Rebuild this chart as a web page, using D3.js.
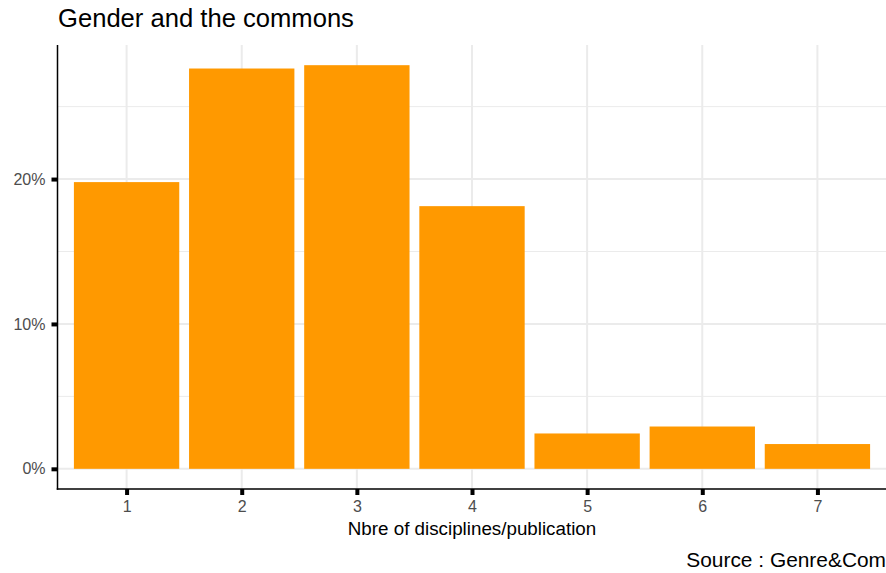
<!DOCTYPE html>
<html>
<head>
<meta charset="utf-8">
<script src="https://cdn.jsdelivr.net/npm/d3@7"></script>
<style>
  html, body { margin: 0; padding: 0; background: #fff; }
  svg { display: block; font-family: "Liberation Sans", Arial, Helvetica, sans-serif; }
</style>
</head>
<body>
<svg id="chart" width="886" height="573"></svg>
<script>
// ---- data ----
const categories = [1, 2, 3, 4, 5, 6, 7];
const shares = [0.1979, 0.2763, 0.2786, 0.1813, 0.0244, 0.0292, 0.0171];
const yTicks = [0, 0.10, 0.20];
const yMinorTicks = [0.05, 0.15, 0.25];
const titleText = "Gender and the commons";
const xTitleText = "Nbre of disciplines/publication";
const captionText = "Source : Genre&Com";

// ---- layout ----
const W = 886, H = 573;
const panel = { left: 57.5, right: 886.5, top: 45, bottom: 489 };
const svg = d3.select("#chart");

const maxV = d3.max(shares);
const ex = 0.05 * maxV;
const x = d3.scaleLinear().domain([0.4, 7.6]).range([panel.left, panel.right]);
const y = d3.scaleLinear().domain([-ex, maxV + ex]).range([panel.bottom, panel.top]);

// grid
const grid = svg.append("g");
grid.selectAll("line.minor").data(yMinorTicks).join("line")
  .attr("x1", panel.left).attr("x2", panel.right)
  .attr("y1", d => y(d)).attr("y2", d => y(d))
  .attr("stroke", "#ebebeb").attr("stroke-width", 1);
grid.selectAll("line.majory").data(yTicks).join("line")
  .attr("x1", panel.left).attr("x2", panel.right)
  .attr("y1", d => y(d)).attr("y2", d => y(d))
  .attr("stroke", "#ebebeb").attr("stroke-width", 2);
grid.selectAll("line.majorx").data(categories).join("line")
  .attr("x1", d => x(d)).attr("x2", d => x(d))
  .attr("y1", panel.top).attr("y2", panel.bottom)
  .attr("stroke", "#ebebeb").attr("stroke-width", 2);

// bars
const bw = x(0.915) - x(0);
svg.append("g").selectAll("rect").data(categories).join("rect")
  .attr("x", d => x(d) - bw / 2)
  .attr("width", bw)
  .attr("y", (d, i) => y(shares[i]))
  .attr("height", (d, i) => y(0) - y(shares[i]))
  .attr("fill", "#ff9900");

// axes
const xAxis = d3.axisBottom(x).tickValues(categories).tickSize(6).tickPadding(6)
  .tickFormat(d3.format("d"));
const gx = svg.append("g").attr("transform", `translate(0,${panel.bottom})`).call(xAxis);
gx.select(".domain").remove();
gx.selectAll(".tick line").attr("stroke", "#000").attr("stroke-width", 4);
gx.selectAll(".tick text").attr("fill", "#4d4d4d").attr("font-size", 16)
  .attr("font-family", "Liberation Sans, Arial, sans-serif");

const yAxis = d3.axisLeft(y).tickValues(yTicks).tickSize(6).tickPadding(6)
  .tickFormat(d3.format(".0%"));
const gy = svg.append("g").attr("transform", `translate(${panel.left},0)`).call(yAxis);
gy.select(".domain").remove();
gy.selectAll(".tick line").attr("stroke", "#000").attr("stroke-width", 4);
gy.selectAll(".tick text").attr("fill", "#4d4d4d").attr("font-size", 16)
  .attr("font-family", "Liberation Sans, Arial, sans-serif");

// axis lines
svg.append("line").attr("x1", panel.left).attr("x2", panel.left)
  .attr("y1", panel.top).attr("y2", panel.bottom + 0.75)
  .attr("stroke", "#000").attr("stroke-width", 1.5);
svg.append("line").attr("x1", panel.left - 0.75).attr("x2", panel.right)
  .attr("y1", panel.bottom).attr("y2", panel.bottom)
  .attr("stroke", "#000").attr("stroke-width", 1.5);

// texts
svg.append("text").attr("x", 58).attr("y", 26.7)
  .attr("font-size", 25.6).attr("fill", "#000").text(titleText);
svg.append("text").attr("x", (panel.left + panel.right) / 2).attr("y", 535)
  .attr("text-anchor", "middle").attr("font-size", 18.8).attr("fill", "#000").text(xTitleText);
svg.append("text").attr("x", 886).attr("y", 567.3)
  .attr("text-anchor", "end").attr("font-size", 20.9).attr("fill", "#000").text(captionText);
</script>
</body>
</html>
